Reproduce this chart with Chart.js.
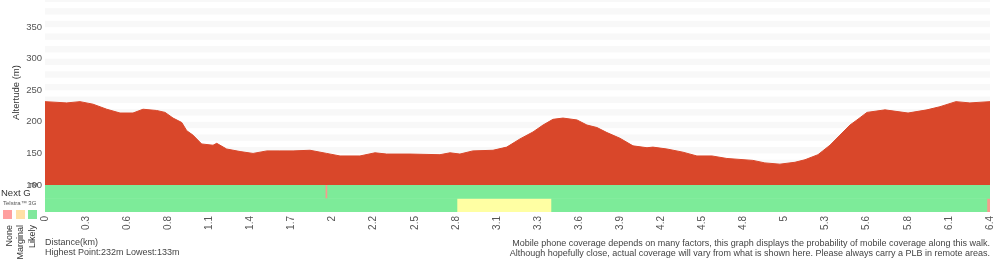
<!DOCTYPE html>
<html>
<head>
<meta charset="utf-8">
<title>Elevation profile</title>
<script src="https://cdn.jsdelivr.net/npm/chart.js@4.4.0/dist/chart.umd.min.js"></script>
<style>
  body { margin: 0; background: #fff; }
  #wrap { position: relative; width: 1000px; height: 260px; font-family: "Liberation Sans", Arial, sans-serif; }
  #elevChart { position: absolute; left: 0; top: 0; }
  .txt { position: absolute; white-space: nowrap; color: #444; }
  .note { right: 10px; top: 238px; font-size: 9px; line-height: 10px; text-align: right; }
  .nextg { left: 1px; top: 188px; font-size: 9.5px; line-height: 10px; color: #333; }
  .tm { left: 29px; top: 182px; font-size: 6px; line-height: 6px; color: #333; }
  .telstra { left: 3px; top: 200px; font-size: 6px; line-height: 7px; color: #555; }
  .sq { position: absolute; top: 210px; width: 9px; height: 9px; }
  .rot { left: 0; top: 0; font-size: 9px; line-height: 9px; color: #333; transform-origin: 0 0; }
</style>
</head>
<body>
<div id="wrap">
  <canvas id="elevChart" width="1000" height="260"></canvas>

  <!-- coverage key on the left -->
  <div class="txt nextg">Next G</div>
  <div class="txt tm">TM</div>
  <div class="txt telstra">Telstra™ 3G</div>
  <div class="sq" style="left:3px;background:#ff9f9f"></div>
  <div class="sq" style="left:16px;background:#ffe0a6"></div>
  <div class="sq" style="left:28px;background:#80e89c"></div>
  <div class="txt rot" style="transform:translate(9px,225px) rotate(-90deg) translate(-100%,-50%)">None</div>
  <div class="txt rot" style="transform:translate(20.5px,225px) rotate(-90deg) translate(-100%,-50%)">Marginal</div>
  <div class="txt rot" style="transform:translate(32px,225px) rotate(-90deg) translate(-100%,-50%)">Likely</div>

  <div class="txt note">Mobile phone coverage depends on many factors, this graph displays the probability of mobile coverage along this walk.<br>Although hopefully close, actual coverage will vary from what is shown here. Please always carry a PLB in remote areas.</div>
</div>

<script>
// elevation profile
const distKm = [0, 0.147, 0.237, 0.325, 0.418, 0.508, 0.596, 0.664, 0.756, 0.813, 0.867, 0.926, 0.960, 1.002, 1.061, 1.138, 1.163, 1.230, 1.321, 1.409, 1.503, 1.591, 1.680, 1.795, 1.908, 1.998, 2.133, 2.235, 2.314, 2.472, 2.675, 2.743, 2.810, 2.898, 3.034, 3.127, 3.217, 3.305, 3.373, 3.440, 3.508, 3.603, 3.670, 3.738, 3.806, 3.894, 3.982, 4.077, 4.117, 4.212, 4.320, 4.415, 4.517, 4.618, 4.794, 4.875, 4.977, 5.079, 5.147, 5.235, 5.316, 5.384, 5.452, 5.499, 5.567, 5.689, 5.845, 5.973, 6.061, 6.169, 6.264, 6.4];
const elevM = [232, 230, 232, 228, 220, 214, 214, 220, 218, 215, 206, 199, 186, 179, 165, 163, 166, 157, 153, 150, 154, 154, 154, 155, 150, 146, 146, 151, 149, 149, 148, 151, 149, 154, 155, 160, 173, 184, 195, 204, 206, 203, 195, 191, 183, 174, 162, 159, 160, 157, 152, 146, 146, 142, 139, 135, 133, 136, 140, 148, 163, 179, 195, 203, 215, 219, 214, 219, 224, 232, 230, 232];

// x tick labels (24 evenly spaced ticks)
const tickLabels = ['0', '0.3', '0.6', '0.8', '1.1', '1.4', '1.7', '2', '2.2', '2.5', '2.8', '3.1', '3.3', '3.6', '3.9', '4.2', '4.5', '4.8', '5', '5.3', '5.6', '5.8', '6.1', '6.4'];
const xMax = 6.4;
const yMin = 100;
const yMax = 393;

// coverage segments
const covRows = ['Next G', 'Telstra 3G'];
const covRow = ['Next G', 'Next G', 'Next G', 'Telstra 3G', 'Telstra 3G', 'Telstra 3G', 'Telstra 3G'];
const covFrom = [0, 1.898, 1.914, 0, 2.790, 3.431, 6.379];
const covTo = [1.898, 1.914, 6.4, 2.790, 3.431, 6.379, 6.4];
const covLevel = ['Likely', 'None', 'Likely', 'Likely', 'Marginal', 'Likely', 'None'];

const levels = ['Likely', 'Marginal', 'None'];
const levelColors = { Likely: '#7deb99', Marginal: '#ffffa3', None: '#f59b8d' };

// alternating grey bands every 10 m
const stripes = {
    id: 'stripes',
    beforeDatasetsDraw(chart) {
        const { ctx, chartArea } = chart;
        const y = chart.scales.y;
        ctx.save();
        ctx.fillStyle = '#f8f8f8';
        for (let v = 110; v < y.max; v += 20) {
            let top = y.getPixelForValue(Math.min(v + 10, y.max));
            let bottom = y.getPixelForValue(v);
            ctx.fillRect(chartArea.left, top, chartArea.right - chartArea.left, bottom - top);
        }
        ctx.restore();
    }
};

let datasets = [{
    type: 'line',
    label: 'Altitude',
    data: distKm.map((d, i) => ({ x: d, y: elevM[i] })),
    borderColor: '#d9472a',
    backgroundColor: '#d9472a',
    borderWidth: 1,
    pointRadius: 0,
    tension: 0,
    fill: 'start',
    xAxisID: 'x',
    yAxisID: 'y'
}];

levels.forEach(function (lvl) {
    let data = [];
    covLevel.forEach(function (l, i) {
        if (l == lvl) data.push({ y: covRow[i], x: [covFrom[i], covTo[i]] });
    });
    datasets.push({
        type: 'bar',
        label: lvl,
        data: data,
        indexAxis: 'y',
        xAxisID: 'x',
        yAxisID: 'yCov',
        backgroundColor: levelColors[lvl],
        borderWidth: 0,
        grouped: false,
        barPercentage: 1,
        categoryPercentage: 1
    });
});

Chart.defaults.font.family = '"Liberation Sans", Arial, sans-serif';

new Chart('elevChart', {
    type: 'line',
    data: { datasets: datasets },
    options: {
        responsive: false,
        animation: false,
        layout: { padding: { left: 0, right: 10, top: 0, bottom: 0 } },
        plugins: {
            legend: { display: false },
            tooltip: { enabled: false }
        },
        scales: {
            x: {
                type: 'linear',
                min: 0,
                max: xMax,
                grid: { display: false, drawTicks: false },
                border: { display: false },
                afterBuildTicks: function (s) {
                    s.ticks = tickLabels.map((t, i) => ({ value: i * xMax / (tickLabels.length - 1) }));
                },
                afterFit: function (s) {
                    s.height = 48;
                    s.paddingLeft = 0;
                    s.paddingRight = 0;
                },
                ticks: {
                    autoSkip: false,
                    minRotation: 90,
                    maxRotation: 90,
                    padding: 4,
                    color: '#555',
                    font: { size: 10 },
                    callback: (v, i) => tickLabels[i]
                },
                title: {
                    display: true,
                    text: ['Distance(km)', 'Highest Point:232m Lowest:133m'],
                    align: 'start',
                    color: '#444',
                    font: { size: 9, lineHeight: 10 / 9 },
                    padding: { top: 0, bottom: 2 }
                }
            },
            // coverage rows sit under the altitude axis in the same stack
            yCov: {
                type: 'category',
                labels: covRows,
                position: 'left',
                stack: 'alt',
                stackWeight: 27,
                offset: true,
                grid: { display: false, drawTicks: false },
                border: { display: false },
                ticks: { display: false },
                afterFit: function (s) {
                    s.width = 45;
                    s.paddingTop = 0;
                    s.paddingBottom = 0;
                }
            },
            y: {
                type: 'linear',
                position: 'left',
                stack: 'alt',
                stackWeight: 185,
                min: yMin,
                max: yMax,
                grid: { display: false, drawTicks: false },
                border: { display: false },
                afterFit: function (s) {
                    s.width = 45;
                    s.paddingTop = 0;
                    s.paddingBottom = 0;
                },
                ticks: {
                    stepSize: 50,
                    includeBounds: false,
                    padding: 3,
                    color: '#555',
                    font: { size: 9.5 }
                },
                title: {
                    display: true,
                    text: 'Altertude (m)',
                    color: '#333',
                    font: { size: 9.5 },
                    padding: { top: 11, bottom: 0 }
                }
            }
        }
    },
    plugins: [stripes]
});
</script>
</body>
</html>
